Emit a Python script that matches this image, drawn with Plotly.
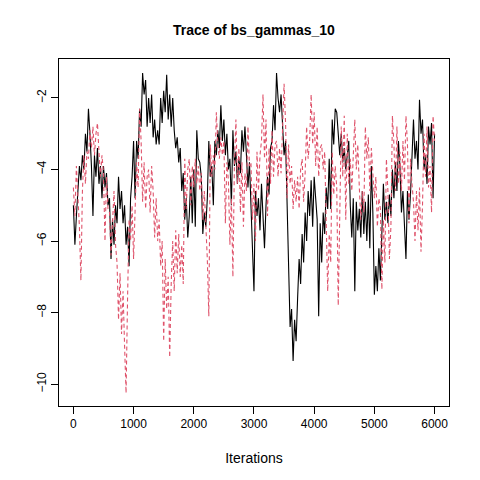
import plotly.graph_objects as go

step = 25

chain1 = [
    # 0 - 1000
    -5.0, -6.1, -5.3, -4.4, -3.9, -4.3, -3.6, -4.0, -3.0, -3.5,
    -2.3, -3.0, -3.9, -5.3, -3.6, -4.2, -3.4, -4.4, -3.9, -4.8,
    -3.9, -4.5, -4.1, -5.0, -4.8, -6.5, -5.4, -6.1, -5.0, -5.5,
    -4.2, -5.1, -4.6, -5.5, -5.0, -6.1, -5.6, -6.7, -4.8, -4.2,
    -3.2,
    # 1025 - 2000
    -4.8, -3.2, -3.7, -2.3, -2.8, -1.3, -1.9, -1.5, -2.8, -2.0,
    -2.7, -1.9, -3.1, -2.6, -3.3, -2.9, -3.3, -2.0, -2.7, -1.8,
    -2.4, -1.35, -2.6, -1.9, -2.8, -2.0, -2.9, -3.4, -3.1, -3.8,
    -3.4, -4.6, -4.1, -5.4, -4.8, -5.9, -5.3, -4.2, -5.5, -4.0,
    # 2025 - 3000
    -5.6, -2.9, -3.7, -3.8, -4.2, -5.8, -5.2, -5.6, -4.8, -3.2,
    -4.2, -3.9, -5.0, -3.2, -3.6, -2.9, -3.4, -2.2, -3.2, -2.6,
    -3.6, -3.0, -4.0, -3.7, -5.0, -2.9, -3.9, -3.5, -4.4, -3.7,
    -4.1, -2.9, -3.5, -2.8, -3.6, -4.5, -3.8, -5.0, -6.4, -7.4,
    # 3025 - 4000
    -4.6, -5.3, -4.8, -5.7, -4.4, -5.2, -6.2, -5.0, -4.2, -4.7,
    -3.4, -3.2, -2.2, -2.9, -1.3, -2.0, -2.4, -1.9, -2.8, -3.6,
    -3.2, -5.0, -7.0, -8.4, -7.9, -9.35, -8.2, -8.8, -7.6, -6.5,
    -7.2, -5.8, -6.6, -5.2, -6.0, -4.6, -5.3, -4.3, -5.6, -4.2,
    # 4025 - 5000
    -4.8, -5.4, -8.1, -5.5, -6.6, -5.2, -5.8, -4.5, -5.1, -3.7,
    -5.1, -2.6, -3.3, -2.3, -2.4, -2.9, -3.6, -3.0, -3.8, -3.4,
    -4.0, -3.6, -3.2, -5.0, -5.9, -4.8, -7.4, -4.9, -5.7, -5.1,
    -5.9, -4.6, -5.8, -4.9, -6.0, -4.7, -6.2, -3.9, -5.2, -7.5,
    # 5025 - 6000
    -6.7, -7.4, -6.2, -7.1, -5.6, -4.4, -5.4, -4.9, -5.5, -4.7,
    -5.3, -4.0, -4.8, -3.8, -4.6, -3.2, -3.9, -5.2, -4.6, -5.5,
    -6.5, -4.6, -5.4, -4.7, -3.6, -2.6, -3.7, -3.2, -4.0, -2.05,
    -3.0, -2.6, -4.0, -3.6, -4.4, -2.8, -3.3, -2.7, -4.8, -3.0,
]

chain2 = [
    # 0 - 1000
    -4.5, -5.3, -3.9, -4.6, -5.6, -7.1, -4.6, -3.6, -4.4, -3.5,
    -3.7, -2.9, -3.4, -2.8, -3.6, -3.0, -2.7, -3.5, -4.2, -3.6,
    -4.1, -6.0, -4.2, -5.1, -5.2, -6.4, -5.3, -4.6, -6.1, -6.6,
    -8.2, -6.9, -8.6, -7.4, -8.9, -10.25, -7.6, -5.4, -6.0, -5.0,
    -6.5,
    # 1025 - 2000
    -4.8, -3.8, -4.5, -2.3, -3.2, -4.9, -3.8, -5.1, -4.2, -4.0,
    -5.2, -3.9, -4.6, -5.9, -4.8, -6.0, -5.4, -6.7, -6.0, -8.8,
    -6.5, -7.9, -7.0, -9.25, -7.2, -6.0, -7.4, -5.7, -6.9, -5.8,
    -7.0, -6.1, -7.2, -3.7, -5.1, -4.0, -3.7, -5.0, -3.9, -4.5,
    # 2025 - 3000
    -3.7, -4.4, -3.9, -4.6, -4.1, -5.4, -4.6, -5.6, -6.5, -8.1,
    -3.3, -4.2, -3.6, -4.0, -2.4, -3.3, -3.7, -3.1, -3.6, -3.2,
    -5.5, -3.8, -4.3, -6.1, -4.8, -7.0, -3.9, -2.6, -4.4, -3.4,
    -5.2, -3.8, -5.6, -4.1, -4.6, -2.8, -3.9, -3.8, -5.4, -4.4,
    # 3025 - 4000
    -6.0, -3.5, -4.6, -3.6, -3.2, -1.9, -3.7, -2.6, -5.3, -3.4,
    -4.4, -2.9, -4.2, -3.3, -3.2, -4.2, -3.4, -4.1, -2.8, -1.6,
    -2.7, -4.8, -3.3, -4.4, -3.9, -5.1, -4.3, -4.9, -4.2, -5.1,
    -4.0, -3.7, -4.9, -4.1, -2.8, -3.7, -3.2, -1.9, -3.3, -2.4,
    # 4025 - 5000
    -3.9, -2.8, -4.2, -3.4, -3.3, -4.0, -3.5, -5.1, -7.4, -5.8,
    -6.6, -3.5, -4.7, -3.9, -4.5, -7.8, -5.6, -2.8, -4.2, -2.5,
    -5.4, -3.0, -4.4, -3.7, -4.6, -3.3, -2.6, -4.0, -3.3, -4.5,
    -5.4, -4.6, -5.2, -2.8, -3.7, -3.1, -4.6, -3.4, -4.2, -4.8,
    # 5025 - 6000
    -4.2, -5.6, -4.8, -5.1, -7.35, -5.4, -6.6, -3.7, -4.6, -6.5,
    -5.6, -2.5, -3.3, -4.6, -2.8, -4.4, -3.5, -4.6, -3.2, -4.3,
    -2.5, -3.3, -5.5, -3.7, -4.4, -4.9, -6.0, -4.6, -5.7, -4.5,
    -6.3, -5.0, -3.0, -4.2, -2.8, -4.5, -3.9, -5.2, -2.5, -3.2,
]

iterations1 = [step * i for i in range(len(chain1))]
iterations2 = [step * i for i in range(len(chain2))]

x_ticks = [0, 1000, 2000, 3000, 4000, 5000, 6000]
y_ticks = [-10, -8, -6, -4, -2]

fig = go.Figure()
fig.add_trace(go.Scatter(x=iterations1, y=chain1, mode="lines",
                         line=dict(color="black", width=1.1), showlegend=False))
fig.add_trace(go.Scatter(x=iterations2, y=chain2, mode="lines",
                         line=dict(color="#DF536B", width=1.1, dash="4px,3px"), showlegend=False))

fig.update_layout(
    width=480, height=480,
    margin=dict(l=59, r=31, t=59, b=74),
    paper_bgcolor="white", plot_bgcolor="white",
    font=dict(family="Liberation Sans, Arial, sans-serif", size=12, color="black"),
    title=dict(text="<b>Trace of bs_gammas_10</b>", x=0.529, xanchor="center",
               y=1 - 30 / 480, yanchor="middle", font=dict(size=14)),
    xaxis=dict(range=[-239, 6240], tickvals=x_ticks, ticks="outside", ticklen=7,
               showgrid=False, zeroline=False, showline=True, linecolor="black",
               linewidth=1, mirror=True, tickcolor="black",
               title=dict(text="Iterations", standoff=22)),
    yaxis=dict(range=[-10.61, -0.91], tickvals=y_ticks, ticks="outside", ticklen=7,
               showgrid=False, zeroline=False, showline=True, linecolor="black",
               linewidth=1, mirror=True, tickcolor="black", tickangle=-90),
)

fig.write_html("out.html")
